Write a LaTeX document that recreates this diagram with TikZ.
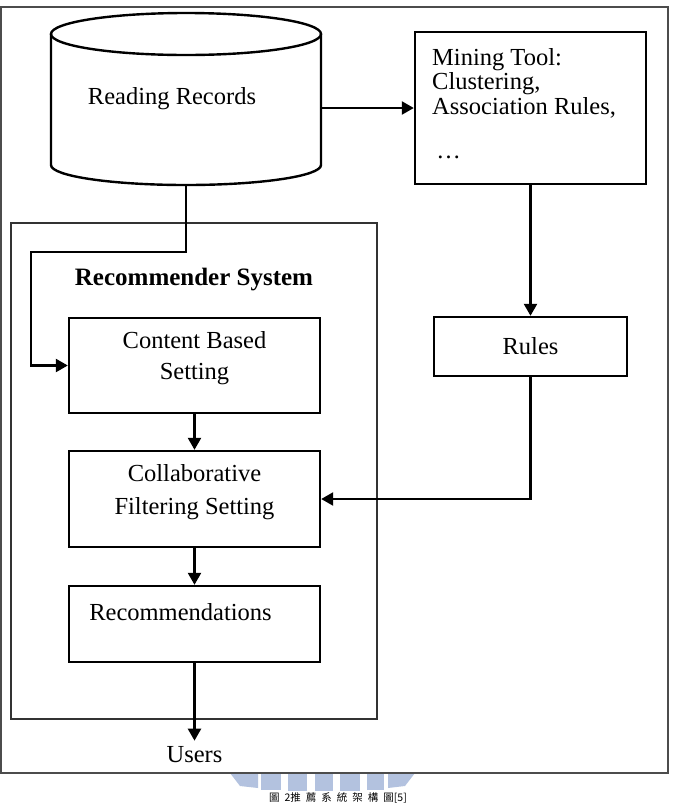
\documentclass[tikz,border=0pt]{standalone}
\usepackage{fontspec}
\setmainfont{Liberation Serif}
\newfontfamily\cjk{Noto Sans CJK TC}
\usetikzlibrary{arrows.meta}
\definecolor{wmblue}{HTML}{B3C2DF}
\begin{document}
\begin{tikzpicture}[x=1pt,y=-1pt,
  box/.style={draw=black, line width=2.4pt, inner sep=0pt},
  lbl/.style={font=\fontsize{24.5}{24.5}\selectfont, inner sep=0pt, align=center},
  conn/.style={line width=2.4pt, -{Triangle[length=12pt,width=13pt]}},
  wm/.style={fill=wmblue, draw=none}
]
\useasboundingbox (0,0) rectangle (675,804);
\fill[white] (0,0) rectangle (675,804);

% watermark fragments (behind the frame)
\fill[wm] (230,773) -- (258,772) -- (258,788) -- (240,786) -- cycle;
\fill[wm] (261,772) rectangle (281,790);
\fill[wm] (288,772) rectangle (307,791);
\fill[wm] (315,772) rectangle (333,791);
\fill[wm] (340,772) rectangle (360,791);
\fill[wm] (367,772) rectangle (384,790);
\fill[wm] (388,772) -- (415,773) -- (405,786) -- (388,788) -- cycle;

% outer frame
\draw[line width=2pt, draw=black!70] (0.8,7) rectangle (668,773);

% cylinder: Reading Records
\draw[line width=2.4pt, fill=white] (51,34) -- (51,165)
   arc[start angle=180, end angle=360, x radius=135pt, y radius=20pt] -- (321,34);
\draw[line width=2.4pt] (186,34) ellipse[x radius=135pt, y radius=21pt];
\node[lbl] (rr) at (172,99) {Reading Records};
\coordinate (cylE) at (321,108);
\coordinate (cylS) at (186,185);

% mining tool box
\node[box, minimum width=231pt, minimum height=152pt] (mining) at (530.5,108) {};
\node[lbl, align=left, anchor=north west] (miningtxt) at (432,48)
  {Mining Tool:\\ Clustering,\\ Association Rules,\\[20pt] \,…};

% rules
\node[box, minimum width=193pt, minimum height=59pt] (rules) at (530.5,346.5) {};
\node[lbl] (rulestxt) at (530.5,346) {Rules};

% recommender system frame
\node[draw=black!80, line width=2pt, minimum width=366pt, minimum height=496pt, inner sep=0pt] (recsys) at (194,471) {};
\node[lbl, font=\fontsize{25}{25}\selectfont\bfseries] (recsystxt) at (194,280) {Recommender System};

% inner boxes
\node[box, minimum width=251pt, minimum height=95pt] (content) at (194.5,365.5) {};
\node[lbl, font=\fontsize{24.5}{31}\selectfont] (contenttxt) at (194.5,358) {Content Based\\Setting};

\node[box, minimum width=251pt, minimum height=96pt] (collab) at (194.5,499) {};
\node[lbl, font=\fontsize{24.5}{33}\selectfont] (collabtxt) at (194.5,492) {Collaborative\\Filtering Setting};

\node[box, minimum width=251pt, minimum height=76pt] (rec) at (194.5,624) {};
\node[lbl] (rectxt) at (180.5,612) {Recommendations};

\node[lbl] (users) at (194.5,755) {Users};

% connectors
\coordinate (k1) at (31,252);
\draw[conn] (cylE) -- (mining.west);
\draw[conn] (cylS) |- (k1) |- (content.west);
\draw[conn] (mining.south) -- (rules.north);
\draw[conn] (rules.south) |- (collab.east);
\draw[conn] (content.south) -- (collab.north);
\draw[conn] (collab.south) -- (rec.north);
\draw[conn, shorten >=6pt] (rec.south) -- (users.north);

% caption
\node[font=\cjk\fontsize{10.5}{10.5}\selectfont, inner sep=0pt, anchor=north] (cap) at (338,792.5)
  {圖\kern5pt 2推\kern5pt 薦\kern5pt 系\kern5pt 統\kern5pt 架\kern5pt 構\kern5pt 圖[5]};
\end{tikzpicture}
\end{document}
